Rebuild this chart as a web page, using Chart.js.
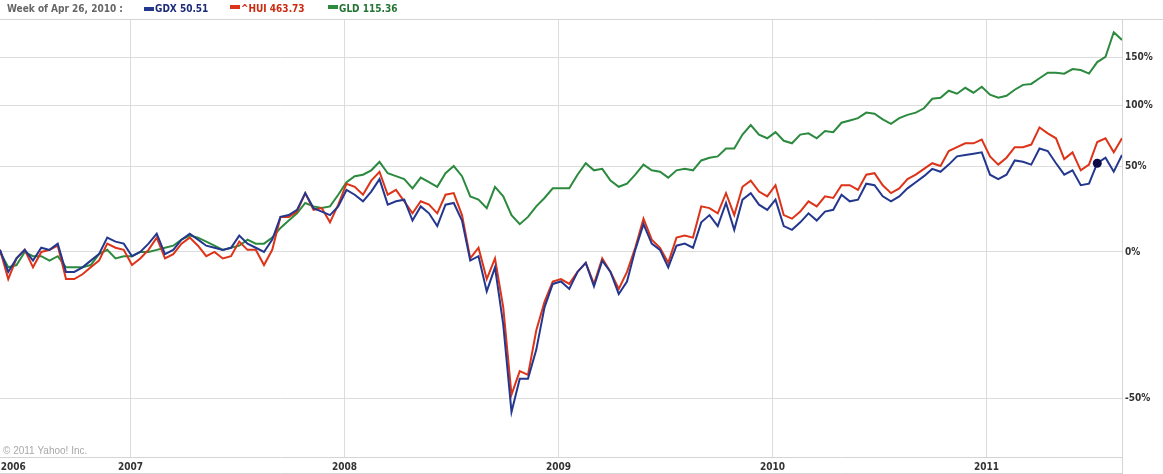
<!DOCTYPE html>
<html>
<head>
<meta charset="utf-8">
<title>GDX / ^HUI / GLD</title>
<script src="https://cdn.jsdelivr.net/npm/chart.js@4.4.1/dist/chart.umd.min.js"></script>
<style>
  html, body { margin: 0; padding: 0; background: #fff; }
  #wrap { width: 1163px; height: 474px; }
</style>
</head>
<body>
<div id="wrap"><canvas id="chart" width="1163" height="474"></canvas></div>
<script>
// fortnightly samples, % change from the first week
const START = 2006.39;
const STEP = 0.03855; // about two weeks, in years

const gdx = [1,-9,-3,1,-4,2,1,4,-9,-9, -7,-4,-1,7,5,4,-2,0,4,9,
  -1,1,6,9,6,3,2,1,2,8, 4,2,0,6,18,19,22,32,23,21,
  19,24,34,31,27,33,41,25,27,28, 16,24,20,13,25,26,16,-4,-2,-17,
  -7,-29,-53,-45,-45,-37,-23,-14,-13,-16, -9,-5,-15,-4,-9,-18,-13,1,14,4,
  1,-7,3,4,2,15,19,13,26,11, 28,32,25,22,28,13,11,15,20,16,
  21,22,31,27,28,38,37,30,27,30, 35,39,43,48,46,51,57,58,59,60,
  44,41,44,54,53,51,63,61,52,44, 47,37,38,52,56,46,58];

const hui = [1,-12,-3,1,-7,0,1,3,-12,-12, -10,-7,-4,4,2,1,-6,-3,1,7,
  -3,-1,4,7,3,-2,0,-3,-2,5, 1,1,-6,1,18,18,21,32,22,23,
  15,25,38,36,31,40,46,31,34,27, 20,27,25,20,31,32,19,-3,2,-12,
  -3,-23,-49,-43,-44,-31,-21,-13,-12,-14, -9,-5,-14,-3,-9,-16,-9,2,17,6,
  2,-5,7,8,7,24,23,20,32,19, 36,40,33,30,37,19,17,21,27,24,
  30,29,37,37,34,44,45,37,32,35, 41,44,48,52,50,61,64,67,67,70,
  57,51,56,64,64,66,80,75,71,55, 60,47,51,68,71,60,71];

const gld = [0,-7,-6,0,-2,-2,-4,-2,-7,-7, -7,-6,-1,1,-3,-2,-2,0,0,1,
  2,3,6,8,7,5,3,1,2,3, 6,4,4,7,12,16,20,26,24,23,
  24,31,39,43,44,47,53,45,43,41, 35,42,39,36,45,50,43,30,28,23,
  36,30,19,14,18,24,29,35,35,35, 44,52,47,48,40,36,38,44,51,47,
  46,42,47,48,47,54,56,57,63,63, 74,82,74,71,76,69,67,74,75,71,
  77,76,84,86,88,93,92,87,83,88, 91,93,97,106,107,114,111,117,112,118,
  110,107,109,115,120,121,127,133,133,132, 137,136,132,145,151,182,172];

const names = ['GDX', '^HUI', 'GLD'];
const quotes = ['50.51', '463.73', '115.36'];
const colors = ['#24378f', '#dd3318', '#2b8a3e'];
const textColors = ['#1c2a78', '#cc2a10', '#237432'];
const yearTicks = [2007, 2008, 2009, 2010, 2011];
const pctTicks = [-50, 0, 50, 100, 150];
const HOVER = 133;

const FONT = '"DejaVu Sans Condensed", "Liberation Sans Narrow", sans-serif';

function toPoints(arr) {
  return arr.map((v, i) => ({ x: START + i * STEP, y: 1 + v / 100 }));
}

const headerPlugin = {
  id: 'header',
  afterDraw(chart) {
    const c = chart.ctx, a = chart.chartArea;
    c.save();
    c.strokeStyle = '#d4d4d4';
    c.lineWidth = 1;
    c.beginPath();
    c.moveTo(0, 19.5); c.lineTo(chart.width, 19.5);
    c.moveTo(0, 473.5); c.lineTo(a.right, 473.5);
    c.moveTo(0, a.bottom + 0.5); c.lineTo(a.right, a.bottom + 0.5);
    c.moveTo(a.right + 0.5, a.top); c.lineTo(a.right + 0.5, chart.height);
    c.stroke();

    c.textBaseline = 'alphabetic';
    c.font = 'bold 10px ' + FONT;
    c.fillStyle = '#666';
    c.fillText('Week of Apr 26, 2010 :', 7, 12);
    const xs = [144, 230, 328];
    const ry = [7, 5, 5];
    names.forEach((n, i) => {
      c.fillStyle = colors[i];
      c.fillRect(xs[i], ry[i], 10, 4);
      c.fillStyle = textColors[i];
      c.fillText(n + ' ' + quotes[i], xs[i] + 11, 12);
    });

    c.font = '10px "Liberation Sans", sans-serif';
    c.fillStyle = '#a8a8a8';
    c.fillText('\u00a9 2011 Yahoo! Inc.', 3, 454);
    c.restore();
  }
};

const tickFont = { family: FONT, size: 10, weight: 'bold' };

new Chart(document.getElementById('chart'), {
  type: 'line',
  data: {
    datasets: [
      { label: 'GDX', data: toPoints(gdx), borderColor: colors[0], borderWidth: 2,
        pointRadius: ctx => ctx.dataIndex === HOVER ? 4.5 : 0,
        pointBackgroundColor: '#0b0b4a', pointBorderWidth: 0 },
      { label: '^HUI', data: toPoints(hui), borderColor: colors[1], borderWidth: 2, pointRadius: 0 },
      { label: 'GLD', data: toPoints(gld), borderColor: colors[2], borderWidth: 2, pointRadius: 0 }
    ]
  },
  options: {
    responsive: false,
    animation: false,
    layout: { padding: { top: 20, left: 0, right: 0, bottom: 0 } },
    plugins: { legend: { display: false }, tooltip: { enabled: false } },
    elements: { line: { tension: 0 } },
    scales: {
      x: {
        type: 'linear',
        min: START,
        max: START + (gdx.length - 1) * STEP,
        afterBuildTicks: s => { s.ticks = [START + 0.062].concat(yearTicks).map(v => ({ value: v })); },
        afterFit: s => { s.height = 17; s.paddingLeft = 0; s.paddingRight = 0; },
        ticks: {
          autoSkip: false, maxRotation: 0, padding: 4,
          color: '#333', font: tickFont,
          callback: v => v < 2007 ? '2006' : String(v)
        },
        grid: { color: ctx => (ctx.tick && ctx.tick.value < 2007) ? 'rgba(0,0,0,0)' : '#dcdcdc', drawTicks: false },
        border: { display: false }
      },
      y: {
        type: 'logarithmic',
        position: 'right',
        min: 0.38,
        max: 2.988,
        afterBuildTicks: s => { s.ticks = pctTicks.map(p => ({ value: 1 + p / 100 })); },
        afterFit: s => { s.width = 41; },
        ticks: {
          padding: 3, color: '#333', font: tickFont,
          callback: v => Math.round((v - 1) * 100) + '%'
        },
        grid: { color: '#dcdcdc', drawTicks: false },
        border: { display: false }
      }
    }
  },
  plugins: [headerPlugin]
});
</script>
</body>
</html>
